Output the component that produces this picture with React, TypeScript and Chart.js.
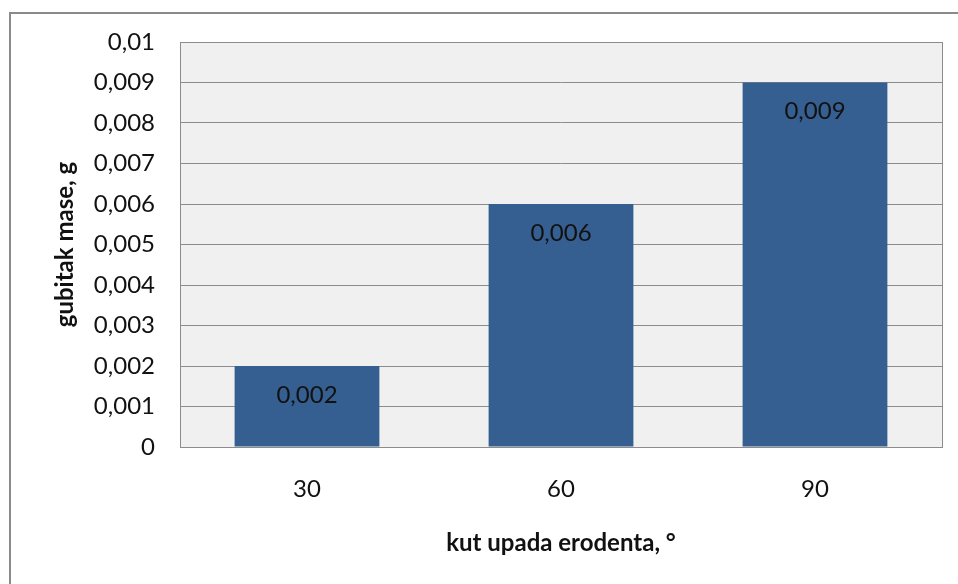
import React, { useEffect, useRef } from "react";
import { Chart, registerables } from "chart.js";

Chart.register(...registerables);

const categories = ["30", "60", "90"];
const massLoss = [0.002, 0.006, 0.009];
const valueLabels = ["0,002", "0,006", "0,009"];
const xTitle = "kut upada erodenta, °";
const yTitle = "gubitak mase, g";

const FONT = "Lato, 'Open Sans', sans-serif";

const fmt = (v: number) => {
  const s = Number(v.toFixed(3)).toString();
  return s.replace(".", ",");
};

const plotDecor = {
  id: "plotDecor",
  beforeDraw(chart: any) {
    const { ctx, chartArea } = chart;
    ctx.save();
    ctx.fillStyle = "#f0f0f0";
    ctx.fillRect(chartArea.left, chartArea.top, chartArea.right - chartArea.left, chartArea.bottom - chartArea.top);
    ctx.restore();
  },
  afterDatasetsDraw(chart: any) {
    const { ctx, chartArea } = chart;
    ctx.save();
    ctx.strokeStyle = "#8c8c8c";
    ctx.lineWidth = 1;
    ctx.strokeRect(
      Math.round(chartArea.left) + 0.5,
      Math.round(chartArea.top) + 0.5,
      Math.round(chartArea.right - chartArea.left),
      Math.round(chartArea.bottom - chartArea.top)
    );
    const meta = chart.getDatasetMeta(0);
    ctx.fillStyle = "#111";
    ctx.font = `24px ${FONT}`;
    ctx.textAlign = "center";
    ctx.textBaseline = "middle";
    meta.data.forEach((bar: any, i: number) => {
      ctx.fillText(valueLabels[i], bar.x, bar.y + 29);
    });
    ctx.restore();
  },
};

export default function App() {
  const ref = useRef<HTMLCanvasElement | null>(null);
  useEffect(() => {
    if (!ref.current) return;
    const chart = new Chart(ref.current, {
      type: "bar",
      data: {
        labels: categories,
        datasets: [
          {
            data: massLoss,
            backgroundColor: "#365f91",
            borderWidth: 0,
            categoryPercentage: 1,
            barPercentage: 0.57,
          },
        ],
      },
      options: {
        responsive: false,
        animation: false,
        devicePixelRatio: 1,
        layout: { padding: { top: 42, right: 16, bottom: 0, left: 0 } },
        plugins: { legend: { display: false }, tooltip: { enabled: false } },
        scales: {
          x: {
            grid: { display: false, drawTicks: false },
            border: { display: false },
            ticks: { color: "#111", font: { family: FONT, size: 24 }, padding: 28 },
            title: {
              display: true,
              text: xTitle,
              color: "#111",
              font: { family: FONT, size: 24, weight: "bold" },
              padding: { top: 0, bottom: 26 },
            },
            afterFit(scale: any) {
              scale.height = 137;
            },
          },
          y: {
            min: 0,
            max: 0.01,
            ticks: {
              stepSize: 0.001,
              color: "#111",
              font: { family: FONT, size: 24 },
              padding: 25,
              callback: (v: any) => fmt(Number(v)),
            },
            grid: { color: "#8c8c8c", drawTicks: false, lineWidth: 1 },
            border: { display: true, color: "#8c8c8c" },
            title: {
              display: true,
              text: yTitle,
              color: "#111",
              font: { family: FONT, size: 24, weight: "bold" },
              padding: { top: 51, bottom: 0 },
            },
            afterFit(scale: any) {
              scale.width = 180;
            },
          },
        },
      },
      plugins: [plotDecor],
    });
    return () => chart.destroy();
  }, []);
  return (
    <div style={{ position: "fixed", left: 0, top: 0, width: 958, height: 584, background: "#fff", overflow: "hidden" }}>
      <div
        style={{
          position: "absolute",
          left: 9,
          top: 12,
          width: 1000,
          height: 700,
          border: "2px solid #8a8a8a",
          boxSizing: "border-box",
        }}
      />
      <canvas ref={ref} width={958} height={584} style={{ position: "absolute", left: 0, top: 0, width: 958, height: 584 }} />
    </div>
  );
}
